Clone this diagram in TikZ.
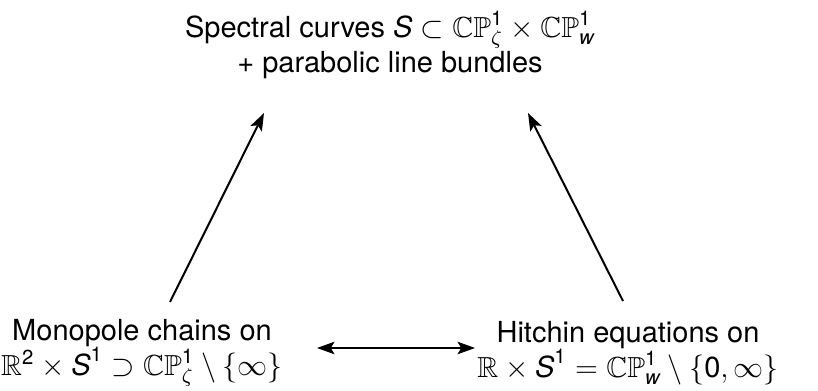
\documentclass[tikz,border=0pt]{standalone}
\usepackage{amsmath}
\usepackage{amssymb}
\usepackage{fontspec}
\setmainfont{TeX Gyre Heros}
\usetikzlibrary{positioning,arrows.meta}
\newcommand{\CPone}{\mathbb{CP}^{\text{1}}}
\newcommand{\sfit}[1]{\textit{#1}}
\tikzset{
  spacebox/.style={font=\fontsize{11.6}{14}\selectfont, align=center, inner sep=2pt},
  arr/.style={-{Stealth[length=7pt,width=5pt,inset=1.5pt]}, line width=0.8pt},
  dblarr/.style={{Stealth[length=7pt,width=5pt,inset=1.5pt]}-{Stealth[length=7pt,width=5pt,inset=1.5pt]}, line width=0.8pt}
}
\begin{document}
\begin{tikzpicture}[x=0.4pt, y=-0.4pt]
  \useasboundingbox (0,0) rectangle (818,391);
  % Spectral data on top
  \node[spacebox] (spec) at (390,45)
        {Spectral curves $\sfit{S}\subset\CPone_\zeta\times\CPone_{\sfit{w}}$\\
         + parabolic line bundles};
  % Monopoles and Hitchin data
  \node[spacebox] (mono) at (142,353)
        {Monopole chains on\\
         $\mathbb{R}^{\text{2}}\times\sfit{S}^{\text{1}}\supset\CPone_\zeta\setminus\{\infty\}$};
  \node[spacebox] (hitch) at (628,353)
        {Hitchin equations on\\
         $\mathbb{R}\times\sfit{S}^{\text{1}}=\CPone_{\sfit{w}}\setminus\{\text{0},\infty\}$};

  % Arrows
  \draw[arr] ([shift={(28,-51)}]mono.center) -- ([shift={(-126,68)}]spec.center);
  \draw[arr] ([shift={(-5,-52)}]hitch.center) -- ([shift={(138,68)}]spec.center);
  \draw[dblarr] ([shift={(175,-5)}]mono.center) -- ([shift={(-153,-5)}]hitch.center);
\end{tikzpicture}
\end{document}
